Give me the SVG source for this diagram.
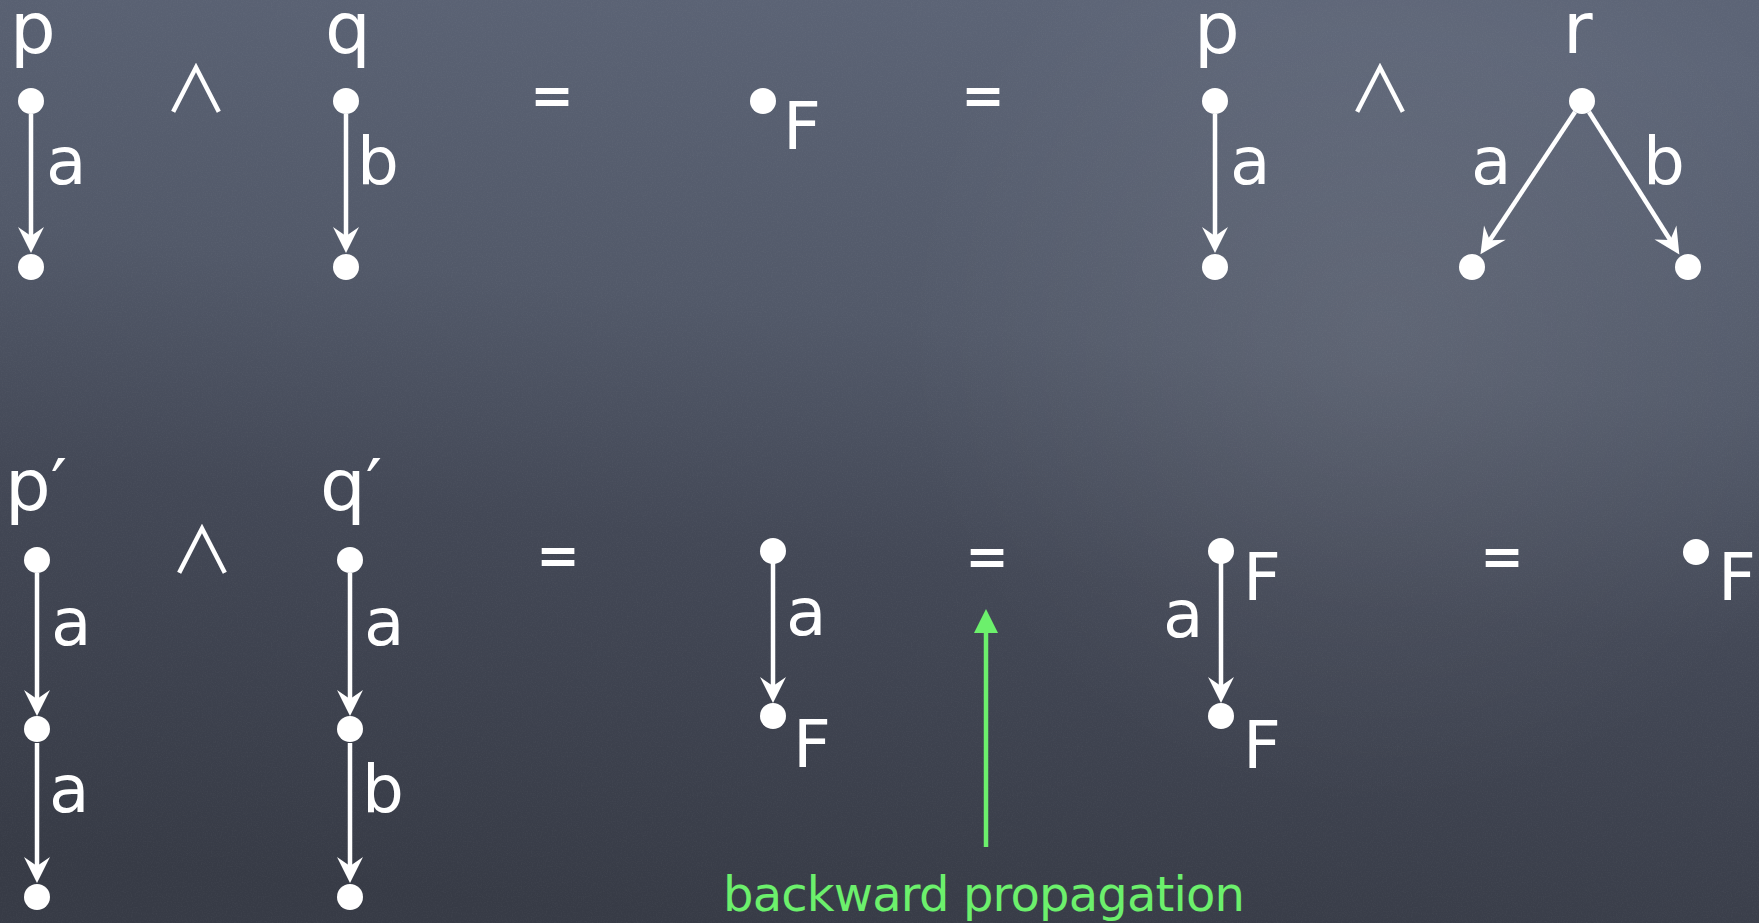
<svg xmlns="http://www.w3.org/2000/svg" width="1759" height="923" viewBox="0 0 1759 923">
<style>
.t{font-family:"DejaVu Sans","Liberation Sans",sans-serif;fill:#ffffff;font-size:66px}
.v{font-family:"DejaVu Sans","Liberation Sans",sans-serif;fill:#ffffff;font-size:72px}
.eq{font-family:"DejaVu Sans","Liberation Sans",sans-serif;fill:#ffffff;font-size:52px;font-weight:bold;text-anchor:middle}
.and{font-family:"Noto Sans CJK JP","DejaVu Sans",sans-serif;fill:#ffffff;font-size:64px;text-anchor:middle}
.e{stroke:#ffffff;stroke-width:4.5;fill:none;marker-end:url(#ah)}
.n{fill:#ffffff}
.g{font-family:"DejaVu Sans","Liberation Sans",sans-serif;fill:#6cf06c;font-size:48px}
</style>
<defs>
<linearGradient id="bg" x1="0.6" y1="0" x2="0.4" y2="1">
<stop offset="0" stop-color="#5c6476"/>
<stop offset="0.35" stop-color="#525969"/>
<stop offset="0.6" stop-color="#434856"/>
<stop offset="1" stop-color="#373b46"/>
</linearGradient>
<radialGradient id="glow" cx="1380" cy="330" r="480" gradientUnits="userSpaceOnUse">
<stop offset="0" stop-color="#ffffff" stop-opacity="0.07"/>
<stop offset="1" stop-color="#ffffff" stop-opacity="0"/>
</radialGradient>
<filter id="noise" x="0" y="0" width="100%" height="100%">
<feTurbulence type="fractalNoise" baseFrequency="0.8" numOctaves="2" seed="3"/>
<feColorMatrix type="matrix" values="0 0 0 0 1  0 0 0 0 1  0 0 0 0 1  0.6 0 0 0 -0.25"/>
</filter>
<marker id="ah" markerUnits="userSpaceOnUse" markerWidth="34" markerHeight="34" refX="0" refY="0" viewBox="-17 -17 34 34" orient="auto">
<path d="M10,0 L-16,-13 L-7,0 L-16,13 Z" fill="#ffffff"/>
</marker>
<marker id="gh" markerUnits="userSpaceOnUse" markerWidth="30" markerHeight="30" refX="0" refY="0" viewBox="-15 -15 30 30" orient="auto">
<path d="M12,0 L-12,-12 L-12,12 Z" fill="#6cf06c"/>
</marker>
</defs>
<rect width="1759" height="923" fill="url(#bg)"/>
<rect width="1759" height="923" fill="url(#glow)"/>
<rect width="1759" height="923" filter="url(#noise)" opacity="0.12"/>

<g id="connectors">
<line class="e" x1="31" y1="114" x2="31" y2="243"/>
<line class="e" x1="346" y1="114" x2="346" y2="243"/>
<line class="e" x1="1215" y1="114" x2="1215" y2="243"/>
<line class="e" x1="1575" y1="112" x2="1486" y2="246"/>
<line class="e" x1="1589" y1="112" x2="1674" y2="246"/>
<line class="e" x1="37" y1="573" x2="37" y2="706"/>
<line class="e" x1="37" y1="743" x2="37" y2="873"/>
<line class="e" x1="350" y1="573" x2="350" y2="706"/>
<line class="e" x1="350" y1="743" x2="350" y2="873"/>
<line class="e" x1="773" y1="563" x2="773" y2="693"/>
<line class="e" x1="1221" y1="563" x2="1221" y2="693"/>
<line x1="986" y1="847" x2="986" y2="621" stroke="#6cf06c" stroke-width="4.5" marker-end="url(#gh)"/>
</g>

<g id="p-top">
<text class="v" x="10" y="53">p</text>
<circle class="n" cx="31" cy="101" r="13"/>
<circle class="n" cx="31" cy="267" r="13"/>
<text class="t" x="46" y="184">a</text>
</g>
<g id="and-top1"><text class="and" x="196" y="112">∧</text></g>
<g id="q-top">
<text class="v" x="325" y="53">q</text>
<circle class="n" cx="346" cy="101" r="13"/>
<circle class="n" cx="346" cy="267" r="13"/>
<text class="t" x="357" y="184">b</text>
</g>
<g id="eq-top1"><text class="eq" x="552" y="113">=</text></g>
<g id="f-top">
<circle class="n" cx="763" cy="101" r="13"/>
<text class="t" x="783" y="149">F</text>
</g>
<g id="eq-top2"><text class="eq" x="983" y="113">=</text></g>
<g id="p-top2">
<text class="v" x="1194" y="53">p</text>
<circle class="n" cx="1215" cy="101" r="13"/>
<circle class="n" cx="1215" cy="267" r="13"/>
<text class="t" x="1230" y="184">a</text>
</g>
<g id="and-top2"><text class="and" x="1380" y="112">∧</text></g>
<g id="r-top">
<text class="v" x="1563" y="53">r</text>
<circle class="n" cx="1582" cy="101" r="13"/>
<circle class="n" cx="1472" cy="267" r="13"/>
<circle class="n" cx="1688" cy="267" r="13"/>
<text class="t" x="1471" y="184">a</text>
<text class="t" x="1643" y="184">b</text>
</g>

<g id="p-prime">
<text class="v" x="5" y="510">p′</text>
<circle class="n" cx="37" cy="560" r="13"/>
<circle class="n" cx="37" cy="729" r="13"/>
<circle class="n" cx="37" cy="897" r="13"/>
<text class="t" x="51" y="645">a</text>
<text class="t" x="49" y="812">a</text>
</g>
<g id="and-bot"><text class="and" x="202" y="573">∧</text></g>
<g id="q-prime">
<text class="v" x="320" y="510">q′</text>
<circle class="n" cx="350" cy="560" r="13"/>
<circle class="n" cx="350" cy="729" r="13"/>
<circle class="n" cx="350" cy="897" r="13"/>
<text class="t" x="364" y="645">a</text>
<text class="t" x="362" y="812">b</text>
</g>
<g id="eq-bot1"><text class="eq" x="558" y="573">=</text></g>
<g id="aF">
<circle class="n" cx="773" cy="551" r="13"/>
<circle class="n" cx="773" cy="716" r="13"/>
<text class="t" x="786" y="635">a</text>
<text class="t" x="793" y="767">F</text>
</g>
<g id="eq-bot2"><text class="eq" x="987" y="574">=</text></g>
<g id="FaF">
<circle class="n" cx="1221" cy="551" r="13"/>
<circle class="n" cx="1221" cy="716" r="13"/>
<text class="t" x="1163" y="637">a</text>
<text class="t" x="1243" y="600">F</text>
<text class="t" x="1243" y="768">F</text>
</g>
<g id="eq-bot3"><text class="eq" x="1502" y="574">=</text></g>
<g id="f-bot">
<circle class="n" cx="1696" cy="552" r="13"/>
<text class="t" x="1718" y="600">F</text>
</g>
<g id="label-backward">
<text class="g" x="723" y="911" textLength="522">backward propagation</text>
</g>
</svg>
